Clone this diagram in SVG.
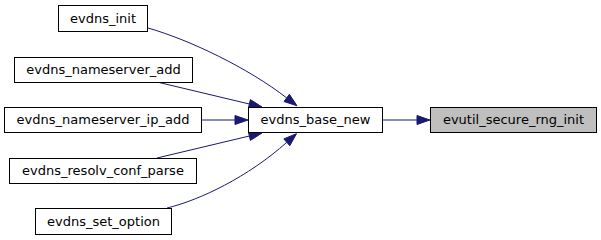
<svg xmlns="http://www.w3.org/2000/svg" width="601" height="240" viewBox="0 0 601 240">
<style>
.node rect{fill:#ffffff;stroke:#000000;stroke-width:1}
.node.cur rect{fill:#bfbfbf}
text{font-family:"DejaVu Sans",sans-serif;font-size:13px;text-anchor:middle;fill:#000000}
.edge path{fill:none;stroke:#191970;stroke-width:1}
.edge polygon{fill:#191970;stroke:#191970;stroke-width:1}
</style>
<rect width="601" height="240" fill="#ffffff"/>
<g id="connectors">
<g class="edge"><path d="M383,120 L417,120"/><polygon points="417,115.5 430,120 417,124.5"/></g>
<g class="edge"><path d="M148,28 C190,40 248,68 286.7,97.9"/><polygon points="289.4,94.3 297,105.8 284,101.5"/></g>
<g class="edge"><path d="M157,82 L249.4,104"/><polygon points="250.4,99.6 262,107 248.3,108.4"/></g>
<g class="edge"><path d="M202,120 L235,120"/><polygon points="235,115.5 248,120 235,124.5"/></g>
<g class="edge"><path d="M157,158 L249.4,136"/><polygon points="248.3,131.6 262,133 250.4,140.4"/></g>
<g class="edge"><path d="M167,208 C200,200 248,177 286.8,142.3"/><polygon points="283.8,138.9 296.5,133.7 289.8,145.7"/></g>
</g>
<g id="node_evutil_secure_rng_init" class="node cur"><rect x="430.5" y="107.5" width="166" height="25"/><text x="513.5" y="124">evutil_secure_rng_init</text></g>
<g id="node_evdns_base_new" class="node"><rect x="248.5" y="107.5" width="134" height="25"/><text x="315.5" y="124">evdns_base_new</text></g>
<g id="node_evdns_init" class="node"><rect x="58.5" y="5.5" width="89" height="26"/><text x="103" y="23">evdns_init</text></g>
<g id="node_evdns_nameserver_add" class="node"><rect x="14.5" y="57.5" width="178" height="25"/><text x="103.5" y="74">evdns_nameserver_add</text></g>
<g id="node_evdns_nameserver_ip_add" class="node"><rect x="4.5" y="107.5" width="197" height="25"/><text x="103" y="124">evdns_nameserver_ip_add</text></g>
<g id="node_evdns_resolv_conf_parse" class="node"><rect x="9.5" y="158.5" width="187" height="25"/><text x="103" y="175">evdns_resolv_conf_parse</text></g>
<g id="node_evdns_set_option" class="node"><rect x="35.5" y="208.5" width="136" height="26"/><text x="103.5" y="226">evdns_set_option</text></g>
</svg>
